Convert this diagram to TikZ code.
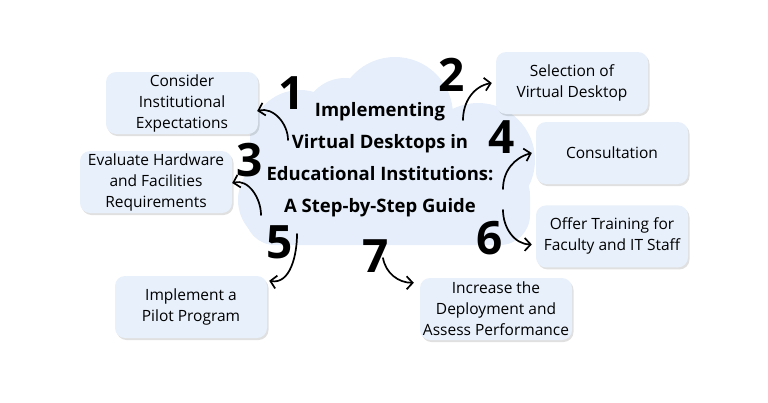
\documentclass[tikz,border=0pt]{standalone}
\usepackage{fontspec}
\setmainfont{Open Sans}
\usetikzlibrary{positioning,arrows.meta,shadows}

\definecolor{cloudblue}{RGB}{229,238,250}
\definecolor{boxblue}{RGB}{232,240,251}

\begin{document}
\begin{tikzpicture}[
  x=1pt, y=1pt,
  >={Straight Barb[length=6pt,width=13pt]},
  every node/.style={font=\fontsize{15.5}{21}\selectfont},
  stepbox/.style={rounded corners=10pt, fill=boxblue, minimum width=152pt, minimum height=62pt, align=center, inner sep=2pt,
    drop shadow={shadow xshift=1.5pt, shadow yshift=-2pt, opacity=0.12, fill=black}},
  num/.style={font=\fontsize{46}{46}\selectfont\bfseries, inner sep=0pt},
  curl/.style={->, line width=1.7pt, line cap=round}
]
\useasboundingbox (0,0) rectangle (768,-402);

\fill[cloudblue] (300,-140) circle (50) (345,-120) circle (42) (395,-115) circle (58) (478,-160) circle (57) (282,-200) circle (44);
\fill[cloudblue] (300,-125) rectangle (480,-200);
\fill[cloudblue, rounded corners=30pt] (245,-165) rectangle (530,-245);

\node[align=center, font=\fontsize{18.5}{32}\selectfont\bfseries] (title) at (380,-160)
  {Implementing\\Virtual Desktops in\\Educational Institutions:\\A Step-by-Step Guide};

\node[stepbox] (box1) at (182,-103) {Consider\\Institutional\\Expectations};
\node[stepbox] (box2) at (572,-83) {Selection of\\Virtual Desktop};
\node[stepbox] (box3) at (156,-182) {Evaluate Hardware\\and Facilities\\Requirements};
\node[stepbox] (box4) at (612,-153) {Consultation};
\node[stepbox] (box5) at (191,-307) {Implement a\\Pilot Program};
\node[stepbox, below=21pt of box4] (box6) {Offer Training for\\Faculty and IT Staff};
\node[stepbox] (box7) at (496,-309) {Increase the\\Deployment and\\Assess Performance};

\node[num] (n1) at (292,-93) {1};
\node[num] (n2) at (452,-75) {2};
\node[num] (n3) at (250,-160) {3};
\node[num] (n4) at (502,-137) {4};
\node[num] (n5) at (280,-242) {5};
\node[num] (n6) at (490,-238) {6};
\node[num] (n7) at (376,-256) {7};

\coordinate (t1) at (288,-140);
\coordinate (t2) at (463,-120);
\coordinate (t3) at (261,-215);
\coordinate (t4) at (503,-189);
\coordinate (t5) at (297,-234);
\coordinate (t6) at (503,-210);
\coordinate (t7) at (383,-258);

\draw[curl] (t1) to[out=90, in=15] ([xshift=-1pt,yshift=-8pt]box1.east);
\draw[curl] (t2) to[out=90, in=190] ([xshift=-4pt]box2.west);
\draw[curl] (t3) to[out=90, in=15] ([yshift=-1pt]box3.east);
\draw[curl] (t4) to[out=90, in=195] ([xshift=-4pt]box4.west);
\draw[curl] (t5) to[out=-90, in=-10] ([xshift=2pt,yshift=-5pt]box5.north east);
\draw[curl] (t6) to[out=-90, in=180] ([xshift=-4pt,yshift=-8pt]box6.west);
\draw[curl] (t7) to[out=-80, in=180] ([xshift=-6pt,yshift=-5pt]box7.north west);
\end{tikzpicture}
\end{document}
